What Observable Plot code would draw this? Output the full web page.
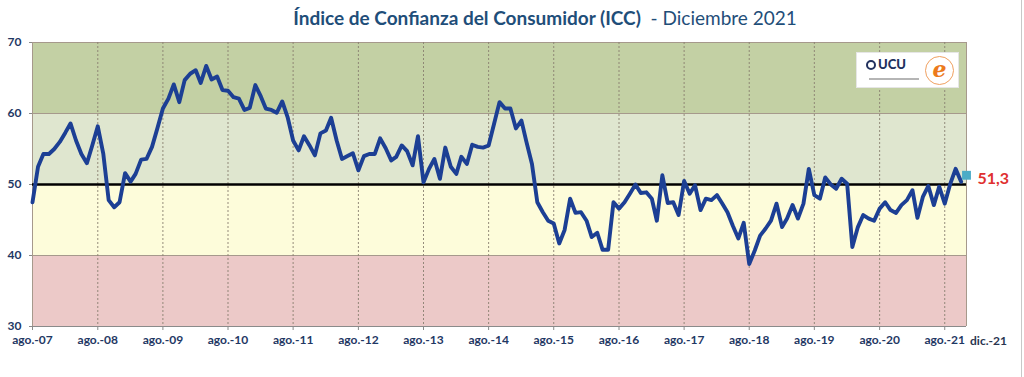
<!DOCTYPE html>
<html><head><meta charset="utf-8">
<script src="https://cdn.jsdelivr.net/npm/d3@7"></script>
<script src="https://cdn.jsdelivr.net/npm/@observablehq/plot@0.6"></script>
<style>
body{margin:0;background:#fff;font-family:Lato,"Open Sans",sans-serif;}
#wrap{position:relative;width:1024px;height:377px;overflow:hidden;}
#title{height:34px;line-height:36px;width:1024px;box-sizing:border-box;padding-left:66px;text-align:center;color:#1f4e79;font-size:19px;white-space:nowrap;}
#title b{font-weight:700;}
#logo{position:absolute;left:856px;top:52px;width:103px;height:36px;background:#fff;border:1px solid #e6e6e6;box-sizing:border-box;}
#logo .ucu{position:absolute;left:9px;top:3px;font:900 13px Lato,sans-serif;color:#22315e;}
#logo .ucu span{display:inline-block;width:10px;height:10px;border-radius:50%;border:2px solid #22315e;box-sizing:border-box;margin-right:2px;vertical-align:-1px;}
#logo .sub{position:absolute;left:12px;top:25px;width:50px;height:2px;background:#b5b5b5;}
#logo .circ{position:absolute;left:68px;top:3px;width:29px;height:29px;border-radius:50%;border:1px solid #f0a060;box-sizing:border-box;text-align:center;font:italic 700 22px "DejaVu Serif",serif;line-height:24px;color:#ec7a1c;}
#edge{position:absolute;left:1021px;top:0;width:1px;height:377px;background:#c8c8c8;}
svg{display:block;}
</style></head><body>
<div id="wrap">
<div id="title"><b>Índice de Confianza del Consumidor (ICC)</b>&nbsp; - Diciembre 2021</div>
<div id="chart"></div>
<div id="logo"><div class="ucu"><span></span>UCU</div><div class="sub"></div><div class="circ">e</div></div>
<div id="edge"></div>
</div>
<script>
// Monthly ICC values, August 2007 .. November 2021
const startYear = 2007, startMonth = 7; // August (0-based month)
const icc = [
  47.5, 52.5, 54.3, 54.3, 55.0,                                   // 2007 ago-dic
  56.0, 57.3, 58.6, 56.2, 54.3, 53.0, 55.5, 58.2, 54.3, 47.8, 46.8, 47.5, // 2008
  51.6, 50.4, 51.5, 53.5, 53.6, 55.3, 57.9, 60.7, 62.1, 64.1, 61.6, 64.7, // 2009
  65.6, 66.1, 64.3, 66.7, 64.8, 65.2, 63.3, 63.2, 62.3, 62.1, 60.5, 60.8, // 2010
  64.0, 62.4, 60.7, 60.5, 60.1, 61.7, 59.5, 56.2, 54.8, 56.8, 55.5, 54.1, // 2011
  57.2, 57.6, 59.4, 56.2, 53.6, 54.0, 54.4, 52.0, 54.0, 54.3, 54.3, 56.5, // 2012
  55.1, 53.4, 53.9, 55.5, 54.7, 52.7, 56.8, 50.3, 52.2, 53.6, 50.8, 55.2, // 2013
  52.5, 51.5, 53.9, 52.9, 55.6, 55.3, 55.2, 55.5, 58.6, 61.6, 60.7, 60.7, // 2014
  57.9, 59.0, 56.0, 52.9, 47.5, 46.1, 44.9, 44.5, 41.7, 43.6, 48.0, 46.0, // 2015
  46.1, 44.9, 42.6, 43.2, 40.8, 40.8, 47.5, 46.6, 47.5, 48.7, 50.0, 48.8, // 2016
  48.9, 48.0, 44.9, 51.3, 47.4, 47.5, 45.7, 50.5, 48.7, 49.9, 46.4, 48.0, // 2017
  47.8, 48.5, 47.4, 46.1, 44.2, 42.4, 44.6, 38.8, 40.7, 42.8, 43.8, 44.9, // 2018
  47.3, 44.0, 45.2, 47.1, 45.2, 47.3, 52.2, 48.5, 48.0, 51.0, 50.0, 49.4, // 2019
  50.8, 50.1, 41.2, 44.0, 45.7, 45.2, 44.9, 46.6, 47.5, 46.4, 46.0, 47.1, // 2020
  47.8, 49.2, 45.3, 48.3, 49.8, 47.1, 49.7, 47.3, 50.1, 52.2, 50.4        // 2021 ene-nov
];
const lastValue = 51.3;          // diciembre 2021
const lastLabel = "51,3";
const tickYears = [2007,2008,2009,2010,2011,2012,2013,2014,2015,2016,2017,2018,2019,2020,2021];
const yTicks = [30, 40, 50, 60, 70];
const bandLo = [60, 50, 40, 30];
const bandHi = [70, 60, 50, 40];
const bandColor = ["#c3d0a4", "#dfe6cf", "#fdfcda", "#ecc9c8"];

const xStart = new Date(Date.UTC(startYear, startMonth, 1));
const xEnd = new Date(Date.UTC(2021, 11, 1));
const series = icc.map((v, i) => ({date: new Date(Date.UTC(startYear, startMonth + i, 1)), value: v}));
const last = [{date: xEnd, value: lastValue, label: lastLabel}];
const bands = bandLo.map((lo, i) => ({lo, hi: bandHi[i], color: bandColor[i], x1: xStart, x2: xEnd}));
const xTicks = tickYears.map(y => new Date(Date.UTC(y, 7, 1)));
const navy = "#1f3864";

const chart = Plot.plot({
  width: 1024, height: 343,
  marginLeft: 32, marginRight: 58, marginTop: 8, marginBottom: 51,
  style: {fontFamily: "Lato, 'Open Sans', sans-serif", background: "transparent", overflow: "visible"},
  x: {type: "utc", domain: [xStart, xEnd]},
  y: {domain: [30, 70]},
  marks: [
    Plot.rect(bands, {x1: "x1", x2: "x2", y1: "lo", y2: "hi", fill: "color"}),
    Plot.ruleY([40, 60, 70], {stroke: "#a6998c", strokeWidth: 1}),
    Plot.gridX(xTicks, {stroke: "#8a8070", strokeOpacity: 0.9, strokeDasharray: "2,2", strokeWidth: 1}),
    Plot.ruleX([xStart, xEnd], {stroke: "#a6998c", strokeWidth: 1}),
    Plot.ruleY([30], {stroke: "#8a8a8a", strokeWidth: 1}),
    Plot.ruleY([50], {stroke: "#000", strokeWidth: 2.6}),
    Plot.axisY(yTicks, {tickSize: 3, tickPadding: 8, fontSize: 12, fontWeight: "bold", fill: navy, stroke: "#8a8a8a", label: null}),
    Plot.axisX(xTicks, {tickSize: 4, tickPadding: 5, fontSize: 12, fontWeight: "bold", fill: navy, stroke: "#8a8a8a", label: null,
      tickFormat: d => "ago.-" + String(d.getUTCFullYear()).slice(2)}),
    Plot.text(last, {x: "date", y: 30, text: () => "dic.-21", dy: 15, dx: 22, fontSize: 12, fontWeight: "bold", fill: "#2a3550"}),
    Plot.line(series, {x: "date", y: "value", stroke: "#1c3f94", strokeWidth: 3.9, strokeLinejoin: "round", strokeLinecap: "round"}),
    Plot.dot(last, {x: "date", y: "value", symbol: "square", r: 5, fill: "#4bacc6", stroke: "none"}),
    Plot.text(last, {x: "date", y: "value", text: "label", dx: 11, dy: 4, textAnchor: "start", fontSize: 16, fontWeight: "bold", fill: "#e0302f"})
  ]
});
document.getElementById("chart").appendChild(chart);
</script>
</body></html>
